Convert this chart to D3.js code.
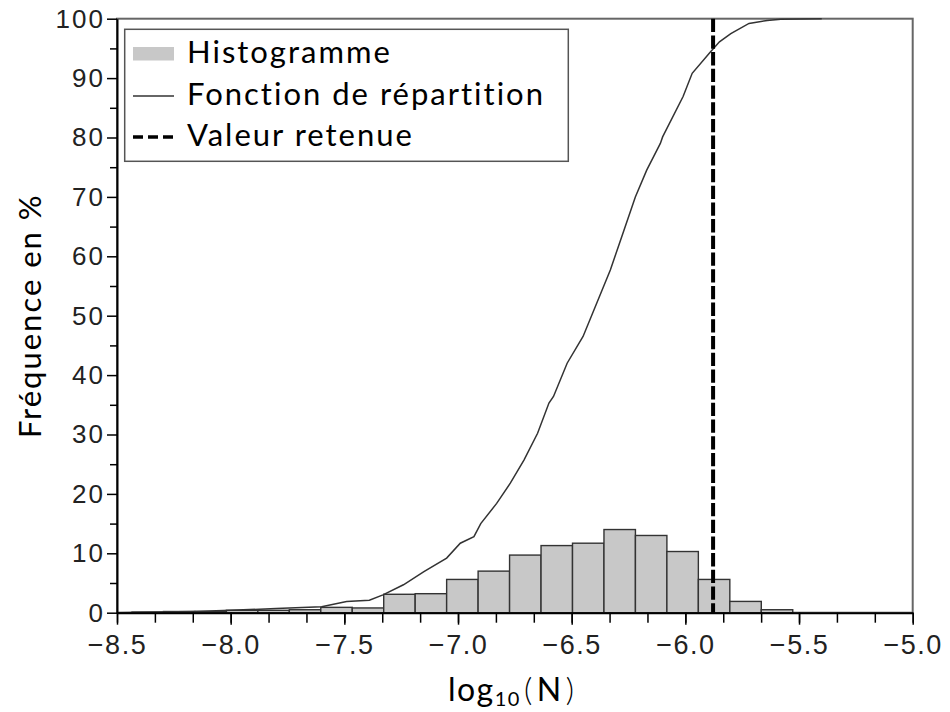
<!DOCTYPE html>
<html lang="fr">
<head>
<meta charset="UTF-8">
<title>Histogramme et fonction de répartition</title>
<script src="https://d3js.org/d3.v7.min.js"></script>
<style>
  body { margin: 0; background: #fff; }
  svg { display: block; }
</style>
</head>
<body>
<div id="chart"></div>
<script>
const w = 950;
const h = 712;

// histogram bins (left edges, log10 N) and frequencies in %
const binStart = -8.434;
const binWidth = 0.1384;
const histValues = [0.1, 0.2, 0.2, 0.4, 0.4, 0.5, 0.9, 0.8,
                    3.1, 3.2, 5.6, 7.0, 9.7, 11.3, 11.7, 14.0, 13.0, 10.3, 5.6, 1.9, 0.5];

// cumulative distribution (log10 N, %)
const cdfX = [-8.50, -8.31, -8.16, -8.00, -7.80, -7.60, -7.49, -7.39, -7.33, -7.24, -7.15,
              -7.05, -6.99, -6.93, -6.90, -6.83, -6.77, -6.71, -6.65, -6.60, -6.58, -6.52,
              -6.45, -6.39, -6.33, -6.27, -6.22, -6.17, -6.11, -6.10, -6.01, -5.97, -5.89,
              -5.85, -5.80, -5.72, -5.64, -5.58, -5.40];
const cdfY = [0, 0.1, 0.2, 0.4, 0.7, 1.0, 1.9, 2.1, 3.0, 4.7, 6.9,
              9.2, 11.7, 12.8, 15.0, 18.4, 21.8, 25.7, 30.2, 35.3, 36.4, 42.0,
              46.5, 52.1, 57.7, 64.4, 70.0, 74.5, 79.0, 80.1, 86.9, 90.8, 94.4,
              96.1, 97.5, 99.2, 99.7, 99.9, 100];

const retained = -5.878;

const xTicks = [-8.5, -8.0, -7.5, -7.0, -6.5, -6.0, -5.5, -5.0];
const yTicks = [0, 10, 20, 30, 40, 50, 60, 70, 80, 90, 100];
const legendLabels = ['Histogramme', 'Fonction de répartition', 'Valeur retenue'];

const labelFont = 'Lato, "Open Sans", sans-serif';
const tickFont = '"Liberation Sans", Arial, sans-serif';

const x = d3.scaleLinear().domain([-8.5, -5.0]).range([117, 912.7]);
const y = d3.scaleLinear().domain([0, 100]).range([612.7, 18.7]);

const svg = d3.select('#chart').append('svg')
    .attr('width', w)
    .attr('height', h)
    .style('background', '#fff');

// frame (top and right in grey)
svg.append('rect')
    .attr('x', x(-8.5)).attr('y', y(100))
    .attr('width', x(-5.0) - x(-8.5)).attr('height', y(0) - y(100))
    .attr('fill', 'none').attr('stroke', '#666').attr('stroke-width', 2);

// histogram
const bins = histValues.map((v, i) => ({x0: binStart + i * binWidth, x1: binStart + (i + 1) * binWidth, v}));
svg.append('g').selectAll('rect')
    .data(bins)
    .enter()
    .append('rect')
    .attr('x', d => x(d.x0))
    .attr('y', d => y(d.v))
    .attr('width', d => x(d.x1) - x(d.x0))
    .attr('height', d => y(0) - y(d.v))
    .attr('fill', '#c8c8c8')
    .attr('stroke', '#333')
    .attr('stroke-width', 1.4);

// cdf
const cdf = cdfX.map((v, i) => [v, cdfY[i]]);
svg.append('path')
    .datum(cdf)
    .attr('fill', 'none')
    .attr('stroke', '#333')
    .attr('stroke-width', 1.5)
    .attr('d', d3.line().x(d => x(d[0])).y(d => y(d[1])));

// retained value
svg.append('line')
    .attr('x1', x(retained)).attr('x2', x(retained))
    .attr('y1', y(100)).attr('y2', y(0))
    .attr('stroke', '#000')
    .attr('stroke-width', 4)
    .attr('stroke-dasharray', '13.3,3.4');

// x axis: major ticks every 0.5, minor every 1/6
const xMinor = d3.range(0, 22).map(k => -8.5 + k / 6);
svg.append('g')
    .attr('transform', `translate(0,${y(0)})`)
    .call(d3.axisBottom(x).tickValues(xMinor).tickSize(10).tickFormat(''))
    .call(g => g.select('.domain').remove())
    .selectAll('line').attr('stroke', '#000').attr('stroke-width', 1.5);

const xAxis = svg.append('g')
    .attr('transform', `translate(0,${y(0)})`)
    .call(d3.axisBottom(x).tickValues(xTicks).tickSize(12).tickPadding(10)
        .tickSizeOuter(0)
        .tickFormat(d => d3.format('.1f')(d).replace('-', '\u2013')));
xAxis.select('.domain').attr('stroke', '#000').attr('stroke-width', 2);
xAxis.selectAll('line').attr('stroke', '#000').attr('stroke-width', 1.5);
xAxis.selectAll('text')
    .attr('fill', '#222')
    .style('font-family', tickFont)
    .style('font-size', '27px')
    .style('letter-spacing', '1.5px');

// y axis: major ticks every 10, minor every 5
svg.append('g')
    .attr('transform', `translate(${x(-8.5)},0)`)
    .call(d3.axisLeft(y).tickValues(d3.range(5, 100, 10)).tickSize(7).tickFormat(''))
    .call(g => g.select('.domain').remove())
    .selectAll('line').attr('stroke', '#000').attr('stroke-width', 1.5);

const yAxis = svg.append('g')
    .attr('transform', `translate(${x(-8.5)},0)`)
    .call(d3.axisLeft(y).tickValues(yTicks).tickSize(10).tickPadding(2).tickSizeOuter(0));
yAxis.select('.domain').attr('stroke', '#000').attr('stroke-width', 2);
yAxis.selectAll('line').attr('stroke', '#000').attr('stroke-width', 1.5);
yAxis.selectAll('text')
    .attr('fill', '#222')
    .style('font-family', tickFont)
    .style('font-size', '26px')
    .style('letter-spacing', '2px');

// axis titles
const xTitle = svg.append('text')
    .attr('x', 448)
    .attr('y', 701)
    .style('font-family', labelFont)
    .style('font-size', '32px')
    .style('letter-spacing', '1.5px')
    .attr('fill', '#000');
xTitle.append('tspan').text('log');
xTitle.append('tspan').attr('dy', 5).style('font-size', '20px').text('10');
xTitle.append('tspan').attr('dy', -5).attr('dx', 3).style('font-weight', 300).text('(');
xTitle.append('tspan').attr('dx', 3).text('N');
xTitle.append('tspan').attr('dx', 3).style('font-weight', 300).text(')');

svg.append('text')
    .attr('transform', `translate(41,${(y(0) + y(100)) / 2}) rotate(-90)`)
    .attr('text-anchor', 'middle')
    .style('font-family', labelFont)
    .style('font-size', '31px')
    .style('letter-spacing', '2px')
    .attr('fill', '#000')
    .text('Fréquence en %');

// legend
const legend = svg.append('g');
legend.append('rect')
    .attr('x', 124.7).attr('y', 29.3)
    .attr('width', 443.6).attr('height', 132)
    .attr('fill', '#fff').attr('stroke', '#555').attr('stroke-width', 1.5);

const rowBase = [63, 104.5, 146];
legend.append('rect')
    .attr('x', 133).attr('y', 47).attr('width', 41).attr('height', 13.5)
    .attr('fill', '#c8c8c8');
legend.append('line')
    .attr('x1', 133).attr('x2', 174).attr('y1', 96).attr('y2', 96)
    .attr('stroke', '#333').attr('stroke-width', 1.3);
legend.append('line')
    .attr('x1', 133).attr('x2', 174).attr('y1', 137).attr('y2', 137)
    .attr('stroke', '#000').attr('stroke-width', 3.5)
    .attr('stroke-dasharray', '10,5');

legend.selectAll('text.lg')
    .data(legendLabels)
    .enter()
    .append('text')
    .attr('class', 'lg')
    .attr('x', 187)
    .attr('y', (d, i) => rowBase[i])
    .style('font-family', labelFont)
    .style('font-size', '31px')
    .style('letter-spacing', '2px')
    .attr('fill', '#000')
    .text(d => d);
</script>
</body>
</html>
